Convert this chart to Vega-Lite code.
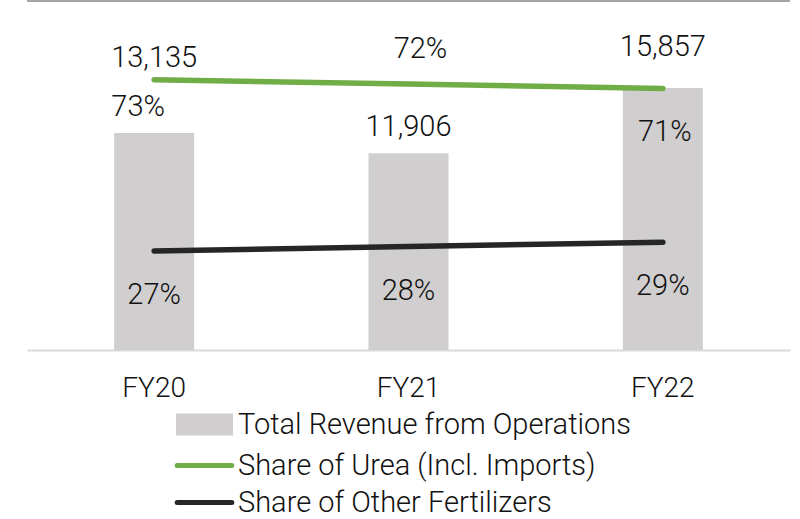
{
  "$schema": "https://vega.github.io/schema/vega-lite/v6.json",
  "width": 763,
  "height": 349,
  "autosize": "none",
  "padding": {"left": 27, "top": 1, "right": 10, "bottom": 169},
  "background": "white",
  "config": {
    "view": {"stroke": null},
    "font": "Roboto",
    "text": {"font": "Roboto", "fontSize": 29, "fontWeight": 300, "color": "#111111", "baseline": "alphabetic"}
  },
  "data": {
    "values": [
      {"year": "FY20", "revenue": 13135, "urea": 0.732, "other": 0.268},
      {"year": "FY21", "revenue": 11906, "urea": 0.720, "other": 0.280},
      {"year": "FY22", "revenue": 15857, "urea": 0.708, "other": 0.292}
    ]
  },
  "encoding": {
    "x": {
      "field": "year", "type": "nominal", "title": null,
      "scale": {"paddingInner": 0, "paddingOuter": 0},
      "axis": {
        "ticks": false, "tickSize": 0, "labelAngle": 0, "labelPadding": 24,
        "labelFontSize": 28, "labelFontWeight": 300, "labelColor": "#111111", "labelFont": "Roboto",
        "domainColor": "#d9d9d9", "domainWidth": 2, "grid": false
      }
    }
  },
  "resolve": {"scale": {"y": "independent"}},
  "layer": [
    {
      "encoding": {
        "y": {"field": "revenue", "type": "quantitative", "scale": {"domain": [0, 21120]}, "axis": null}
      },
      "layer": [
        {
          "mark": {"type": "bar", "width": 80},
          "encoding": {
            "color": {
              "datum": "Total Revenue from Operations",
              "type": "nominal",
              "scale": {
                "domain": ["Total Revenue from Operations", "Share of Urea (Incl. Imports)", "Share of Other Fertilizers"],
                "range": ["#d0cece", "#70ad47", "#262626"]
              },
              "legend": {
                "title": null,
                "orient": "none",
                "direction": "vertical",
                "legendX": 162,
                "legendY": 408,
                "padding": 0,
                "symbolSize": 676,
                "symbolStrokeWidth": 5,
                "symbolType": "M-2,-0.66H2V0.66H-2Z",
                "rowPadding": 6,
                "labelOffset": 18,
                "labelFontSize": 29,
                "labelFontWeight": 300,
                "labelFont": "Roboto",
                "labelColor": "#111111",
                "labelLimit": 600,
                "encode": {
                  "symbols": {
                    "update": {
                      "shape": {"signal": "datum.value === 'Total Revenue from Operations' ? 'M-2,-0.66H2V0.66H-2Z' : 'M-2.1,0H2.1'"},
                      "fill": {"signal": "datum.value === 'Total Revenue from Operations' ? '#d0cece' : 'transparent'"},
                      "stroke": {"signal": "datum.value === 'Total Revenue from Operations' ? 'transparent' : (datum.value === 'Share of Urea (Incl. Imports)' ? '#70ad47' : '#262626')"},
                      "strokeWidth": {"value": 5},
                      "strokeCap": {"value": "round"},
                      "opacity": {"value": 1}
                    }
                  }
                }
              }
            }
          }
        },
        {
          "mark": {"type": "rule", "color": "#a6a6a6", "strokeWidth": 2},
          "encoding": {"y": {"datum": 21120}, "x": null}
        },
        {
          "transform": [{"filter": "datum.year === 'FY20'"}],
          "mark": {"type": "text", "dy": -66},
          "encoding": {"text": {"field": "revenue", "type": "quantitative", "format": ","}}
        },
        {
          "transform": [{"filter": "datum.year === 'FY21'"}],
          "mark": {"type": "text", "dy": -17},
          "encoding": {"text": {"field": "revenue", "type": "quantitative", "format": ","}}
        },
        {
          "transform": [{"filter": "datum.year === 'FY22'"}],
          "mark": {"type": "text", "dy": -32},
          "encoding": {"text": {"field": "revenue", "type": "quantitative", "format": ","}}
        }
      ]
    },
    {
      "encoding": {
        "y": {"type": "quantitative", "scale": {"domain": [0, 0.945]}, "axis": null}
      },
      "layer": [
        {
          "mark": {"type": "line", "strokeWidth": 5.5, "strokeCap": "round", "color": "#70ad47"},
          "encoding": {
            "y": {"field": "urea", "type": "quantitative"},
            "color": {"datum": "Share of Urea (Incl. Imports)", "type": "nominal"}
          }
        },
        {
          "mark": {"type": "line", "strokeWidth": 5.5, "strokeCap": "round", "color": "#262626"},
          "encoding": {
            "y": {"field": "other", "type": "quantitative"},
            "color": {"datum": "Share of Other Fertilizers", "type": "nominal"}
          }
        },
        {
          "transform": [{"filter": "datum.year === 'FY20'"}],
          "mark": {"type": "text", "dy": 36, "dx": -16},
          "encoding": {
            "y": {"field": "urea", "type": "quantitative"},
            "text": {"field": "urea", "type": "quantitative", "format": ".0%"}
          }
        },
        {
          "transform": [{"filter": "datum.year === 'FY21'"}],
          "mark": {"type": "text", "dy": -26, "dx": 12},
          "encoding": {
            "y": {"field": "urea", "type": "quantitative"},
            "text": {"field": "urea", "type": "quantitative", "format": ".0%"}
          }
        },
        {
          "transform": [{"filter": "datum.year === 'FY22'"}],
          "mark": {"type": "text", "dy": 52.5, "dx": 2},
          "encoding": {
            "y": {"field": "urea", "type": "quantitative"},
            "text": {"field": "urea", "type": "quantitative", "format": ".0%"}
          }
        },
        {
          "mark": {"type": "text", "dy": 53},
          "encoding": {
            "y": {"field": "other", "type": "quantitative"},
            "text": {"field": "other", "type": "quantitative", "format": ".0%"}
          }
        }
      ]
    }
  ]
}
